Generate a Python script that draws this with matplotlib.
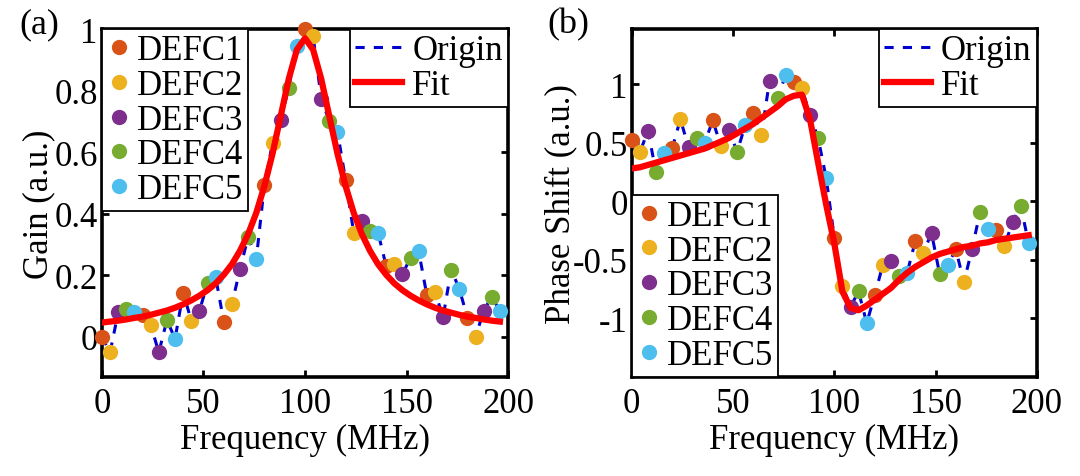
import numpy as np
import matplotlib.pyplot as plt

plt.rcParams['font.family'] = ['Liberation Serif', 'DejaVu Serif']
plt.rcParams['axes.unicode_minus'] = False

freq = np.arange(0, 200, 4)

gain = [0.00, -0.05, 0.08, 0.09, 0.08, 0.07, 0.04, -0.05, 0.055, -0.006,
        0.144, 0.053, 0.085, 0.174, 0.194, 0.05, 0.107, 0.22, 0.325, 0.252,
        0.493, 0.63, 0.703, 0.81, 0.946, 1.0, 0.976, 0.774, 0.70, 0.666,
        0.51, 0.338, 0.376, 0.345, 0.338, 0.23, 0.237, 0.204, 0.258, 0.279,
        0.136, 0.147, 0.064, 0.219, 0.156, 0.063, 0.0, 0.085, 0.131, 0.084]

gain_fit = [0.047, 0.050, 0.053, 0.057, 0.062, 0.066, 0.072, 0.079, 0.086, 0.095,
            0.106, 0.119, 0.134, 0.152, 0.174, 0.202, 0.236, 0.280, 0.334, 0.403,
            0.49, 0.595, 0.716, 0.838, 0.933, 0.97, 0.933, 0.838, 0.716, 0.595,
            0.49, 0.403, 0.334, 0.280, 0.236, 0.202, 0.174, 0.152, 0.134, 0.119,
            0.106, 0.095, 0.086, 0.079, 0.072, 0.066, 0.062, 0.057, 0.053, 0.050]

phase = [0.526, 0.42, 0.60, 0.246, 0.41, 0.455, 0.70, 0.46, 0.54, 0.50,
         0.69, 0.47, 0.61, 0.42, 0.65, 0.755, 0.563, 1.03, 0.883, 1.078,
         1.02, 0.963, 0.735, 0.54, 0.197, -0.31, -0.72, -0.90, -0.77, -1.04,
         -0.80, -0.54, -0.51, -0.64, -0.61, -0.34, -0.44, -0.27, -0.62, -0.546,
         -0.41, -0.69, -0.41, -0.09, -0.24, -0.246, -0.38, -0.18, -0.037, -0.36]

phase_fit = [0.28, 0.29, 0.31, 0.33, 0.35, 0.37, 0.39, 0.41, 0.43, 0.45,
             0.48, 0.51, 0.54, 0.58, 0.62, 0.66, 0.71, 0.76, 0.81, 0.87,
             0.90, 0.91, 0.70, 0.33, -0.03, -0.36, -0.77, -0.91, -0.93, -0.89,
             -0.84, -0.79, -0.74, -0.67, -0.61, -0.56, -0.52, -0.48, -0.45, -0.43,
             -0.41, -0.39, -0.38, -0.36, -0.35, -0.33, -0.32, -0.31, -0.30, -0.29]

series_names = ["DEFC1", "DEFC2", "DEFC3", "DEFC4", "DEFC5"]
series_colors = ["#D95319", "#EDB120", "#7E2F8E", "#77AC30", "#4DBEEE"]

fs = 25

fig = plt.figure(figsize=(10.8, 4.77), dpi=100)
ax1 = fig.add_axes([0.0944, 0.2075, 0.376, 0.7296])
ax2 = fig.add_axes([0.585, 0.2075, 0.375, 0.7296])


def draw_panel(ax, y, y_fit, marker_loc):
    y = np.asarray(y)
    (orig,) = ax.plot(freq, y, "--", color="#0000CC", lw=2.2, dashes=(3, 3), zorder=2)
    dots = []
    for k in range(5):
        (d,) = ax.plot(freq[k::5], y[k::5], "o", ms=11, color=series_colors[k],
                       mec="none", label=series_names[k], zorder=3, clip_on=False)
        dots.append(d)
    (fit,) = ax.plot(freq, y_fit, "-", color="#FF0000", lw=4.5, zorder=4)

    leg1 = ax.legend(dots, series_names, loc=marker_loc, fontsize=fs,
                     frameon=True, fancybox=False, edgecolor="black", framealpha=1,
                     borderaxespad=0.0, handlelength=0.7, handletextpad=0.15,
                     borderpad=0.15, labelspacing=0.05, numpoints=1)
    leg1.get_frame().set_linewidth(1.3)
    leg1.set_zorder(5)
    ax.add_artist(leg1)
    leg2 = ax.legend([orig, fit], ["Origin", "Fit"], loc="upper right", fontsize=fs,
                     frameon=True, fancybox=False, edgecolor="black", framealpha=1,
                     borderaxespad=0.0, handlelength=1.35, handletextpad=0.3,
                     borderpad=0.15, labelspacing=0.05)
    leg2.get_frame().set_linewidth(1.3)
    leg2.set_zorder(5)

    ax.set_xlim(0, 200)
    ax.set_xticks([0, 50, 100, 150, 200])
    for s in ax.spines.values():
        s.set_linewidth(2.6)
    ax.tick_params(direction="in", length=5, width=2, top=True, right=True,
                   labelsize=fs)
    ax.tick_params(axis="x", pad=7)
    ax.tick_params(axis="y", pad=3)
    ax.set_xlabel("Frequency (MHz)", fontsize=fs, labelpad=2)


draw_panel(ax1, gain, gain_fit, "upper left")
ax1.set_ylim(-0.13, 1.0)
ax1.set_yticks([0, 0.2, 0.4, 0.6, 0.8, 1])
ax1.set_yticklabels(["0", "0.2", "0.4", "0.6", "0.8", "1"])
ax1.set_ylabel("Gain (a.u.)", fontsize=fs, labelpad=-1)

draw_panel(ax2, phase, phase_fit, "lower left")
ax2.set_ylim(-1.5, 1.47)
ax2.set_yticks([-1, -0.5, 0, 0.5, 1])
ax2.set_yticklabels(["-1", "-0.5", "0", "0.5", "1"])
ax2.set_ylabel("Phase Shift (a.u.)", fontsize=fs, labelpad=-3)

fig.text(0.018, 0.93, "(a)", fontsize=fs + 1)
fig.text(0.507, 0.93, "(b)", fontsize=fs + 1)

fig.savefig("out.png", dpi=100)
